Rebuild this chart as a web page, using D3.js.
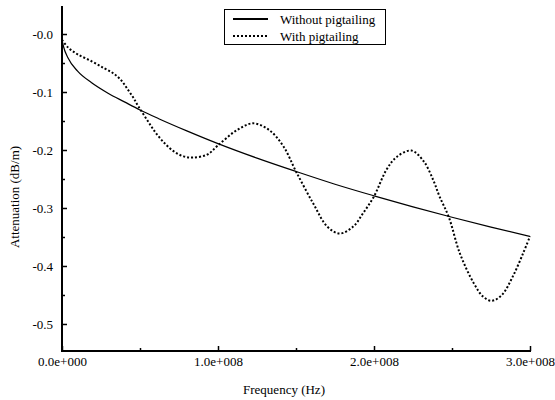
<!DOCTYPE html>
<html>
<head>
<meta charset="utf-8">
<script src="https://cdn.jsdelivr.net/npm/d3@7"></script>
<style>
  html, body { margin: 0; padding: 0; background: #fff; }
  svg { display: block; }
  text { font-family: "Liberation Serif", "Times New Roman", Times, serif; fill: #000; }
</style>
</head>
<body>
<svg id="chart" width="555" height="400"></svg>
<script>
// ---- data (frequency in units of 1e8 Hz, attenuation in dB/m) ----
const seriesNames = ["Without pigtailing", "With pigtailing"];

const freqWithout = [0, 0.01, 0.038, 0.10, 0.19, 0.295, 0.40, 0.50, 0.62, 0.80, 1.0, 1.25, 1.5, 1.75, 2.0, 2.25, 2.5, 2.75, 3.0];
const attWithout  = [-0.010, -0.022, -0.041, -0.064, -0.084, -0.102, -0.117, -0.131, -0.146, -0.167, -0.189, -0.214, -0.237, -0.259, -0.279, -0.298, -0.316, -0.333, -0.349];

const freqWith = [0, 0.038, 0.10, 0.19, 0.27, 0.33, 0.38, 0.42, 0.46, 0.49, 0.55, 0.60, 0.66, 0.72, 0.78, 0.84, 0.93, 1.00, 1.12, 1.225, 1.33, 1.42, 1.50, 1.61, 1.70, 1.78, 1.867, 1.93, 2.00, 2.08, 2.145, 2.24, 2.32, 2.38, 2.42, 2.48, 2.55, 2.64, 2.70, 2.755, 2.82, 2.89, 2.956, 3.00];
const attWith  = [-0.010, -0.023, -0.035, -0.047, -0.059, -0.068, -0.080, -0.095, -0.111, -0.125, -0.150, -0.170, -0.189, -0.203, -0.211, -0.213, -0.208, -0.192, -0.166, -0.154, -0.166, -0.194, -0.237, -0.292, -0.332, -0.344, -0.332, -0.309, -0.280, -0.234, -0.212, -0.201, -0.220, -0.252, -0.280, -0.316, -0.378, -0.430, -0.453, -0.460, -0.450, -0.418, -0.378, -0.349];

const xTicks = [0, 1, 2, 3];
const xTickLabels = ["0.0e+000", "1.0e+008", "2.0e+008", "3.0e+008"];
const xMinorTicks = [0.5, 1.5, 2.5];
const yTicks = [0, -0.1, -0.2, -0.3, -0.4, -0.5];
const yTickLabels = ["-0.0", "-0.1", "-0.2", "-0.3", "-0.4", "-0.5"];
const yMinorTicks = [-0.05, -0.15, -0.25, -0.35, -0.45];

const xTitle = "Frequency (Hz)";
const yTitle = "Attenuation (dB/m)";

// ---- layout ----
const svg = d3.select("#chart");
const x = d3.scaleLinear().domain([0, 3]).range([62, 530]);
const y = d3.scaleLinear().domain([-0.5466, 0.0483]).range([351, 6]);

const FS = 13;
const FONT = '"Liberation Serif", "Times New Roman", Times, serif';

// minor ticks
const yMinor = svg.append("g").attr("transform", `translate(${x(0)},0)`)
  .call(d3.axisLeft(y).tickValues(yMinorTicks).tickSize(-3).tickFormat(""));
const xMinor = svg.append("g").attr("transform", `translate(0,${y.range()[0]})`)
  .call(d3.axisBottom(x).tickValues(xMinorTicks).tickSize(-3).tickFormat(""));

// major axes
const yAxis = svg.append("g").attr("transform", `translate(${x(0)},0)`)
  .call(d3.axisLeft(y).tickValues(yTicks).tickSize(-5).tickPadding(9)
    .tickFormat((d, i) => yTickLabels[i]));
const xAxis = svg.append("g").attr("transform", `translate(0,${y.range()[0]})`)
  .call(d3.axisBottom(x).tickValues(xTicks).tickSize(-5).tickPadding(6)
    .tickFormat((d, i) => xTickLabels[i]));

[yMinor, xMinor, yAxis, xAxis].forEach(g => {
  g.attr("font-family", FONT);
  g.select(".domain").remove();
  g.selectAll(".tick line").attr("stroke", "#000").attr("stroke-width", 1.5);
  g.selectAll("text").style("font-family", FONT).style("font-size", FS + "px").attr("fill", "#000");
});

// axis lines (drawn thick)
svg.append("line").attr("x1", x(0)).attr("x2", x(0)).attr("y1", y.range()[1]).attr("y2", y.range()[0] + 1)
  .attr("stroke", "#000").attr("stroke-width", 2);
svg.append("line").attr("x1", x(0) - 1).attr("x2", x(3) + 1).attr("y1", y.range()[0]).attr("y2", y.range()[0])
  .attr("stroke", "#000").attr("stroke-width", 2);

// titles
svg.append("text").attr("x", 284).attr("y", 394).attr("text-anchor", "middle")
  .style("font-size", FS + "px").text(xTitle);
svg.append("text").attr("transform", "translate(19,197) rotate(-90)").attr("text-anchor", "middle")
  .style("font-size", FS + "px").text(yTitle);

// lines
const dataWithout = freqWithout.map((f, i) => [f, attWithout[i]]);
const dataWith = freqWith.map((f, i) => [f, attWith[i]]);

svg.append("path").datum(dataWithout)
  .attr("d", d3.line().x(d => x(d[0])).y(d => y(d[1])).curve(d3.curveMonotoneX))
  .attr("fill", "none").attr("stroke", "#000").attr("stroke-width", 1.2);
svg.append("path").datum(dataWith)
  .attr("d", d3.line().x(d => x(d[0])).y(d => y(d[1])).curve(d3.curveCatmullRom))
  .attr("fill", "none").attr("stroke", "#000").attr("stroke-width", 2).attr("stroke-dasharray", "2,2");

// legend
const lg = svg.append("g");
lg.append("rect").attr("x", 224.5).attr("y", 9.5).attr("width", 161).attr("height", 35)
  .attr("fill", "#fff").attr("stroke", "#000").attr("stroke-width", 1);
const rows = [19, 36];
lg.append("line").attr("x1", 233).attr("x2", 268).attr("y1", rows[0]).attr("y2", rows[0])
  .attr("stroke", "#000").attr("stroke-width", 2);
lg.append("line").attr("x1", 233).attr("x2", 268).attr("y1", rows[1]).attr("y2", rows[1])
  .attr("stroke", "#000").attr("stroke-width", 2).attr("stroke-dasharray", "2,2");
seriesNames.forEach((n, i) => {
  lg.append("text").attr("x", 280).attr("y", rows[i]).attr("dy", "0.35em")
    .style("font-size", FS + "px").text(n);
});
</script>
</body>
</html>
